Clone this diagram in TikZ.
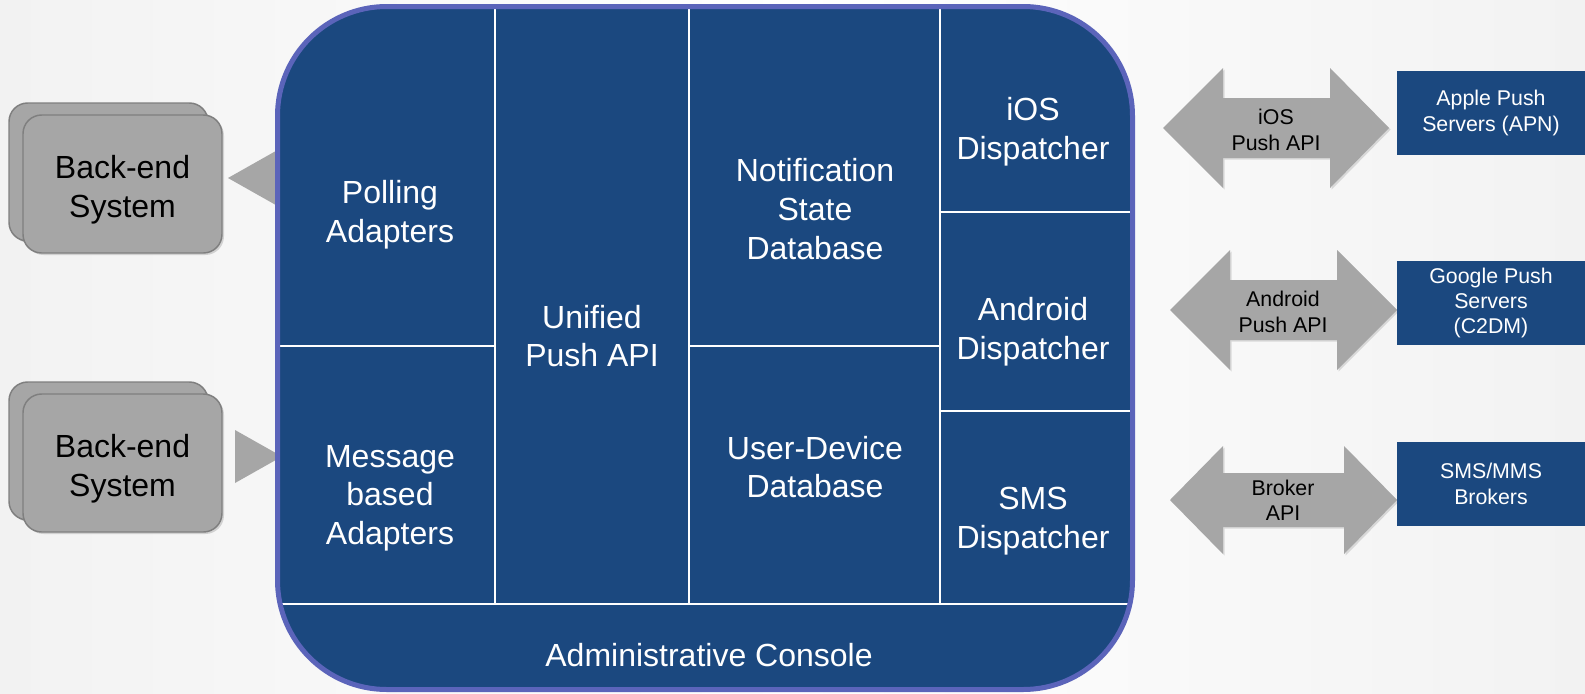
\documentclass[tikz,border=0pt]{standalone}
\usepackage{fontspec}
\setmainfont{Liberation Sans}
\usetikzlibrary{shadows}
\definecolor{boxblue}{HTML}{1B487F}
\definecolor{rimblue}{HTML}{5B64BA}
\definecolor{bgray}{HTML}{A6A6A6}
\definecolor{dgray}{HTML}{7F7F7F}
\definecolor{bgedge}{HTML}{F2F2F2}
\begin{document}
\begin{tikzpicture}[x=0.75pt,y=-0.75pt,
  backend/.style={draw=dgray, line width=1.1pt, fill=bgray, rounded corners=14pt,
    minimum width=149.25pt, minimum height=103.5pt, inner sep=0pt,
    drop shadow={opacity=0.3, shadow xshift=1.5pt, shadow yshift=-1.5pt}},
  betext/.style={font=\fontsize{24}{29}\selectfont, align=center},
  tri/.style={fill=bgray},
  dblarrow/.style={fill=bgray, drop shadow={opacity=0.25, shadow xshift=1.2pt, shadow yshift=-1.2pt}},
  maintext/.style={text=white, font=\fontsize{24}{29}\selectfont, align=center},
  smalltext/.style={font=\fontsize{16}{19}\selectfont, align=center},
  server/.style={fill=boxblue, text=white, font=\fontsize{16}{19}\selectfont, align=center,
    minimum width=141pt, minimum height=63pt, inner sep=0pt},
  divider/.style={draw=white, line width=1.6pt},
  rim/.style={draw=rimblue, line width=3.75pt, rounded corners=82pt}
]
\useasboundingbox (0,0) rectangle (1585,693);
\shade[left color=bgedge, right color=bgedge, middle color=white] (0,0) rectangle (1585,693);

% back-end systems
\node[backend] (be1b) at (108.5,172) {};
\node[backend] (be1) at (122.5,184) {};
\node[betext] (be1t) at (122.5,190) {Back-end\\System};
\node[backend] (be2b) at (108.5,451) {};
\node[backend] (be2) at (122.5,463) {};
\node[betext] (be2t) at (122.5,469) {Back-end\\System};

% triangles
\coordinate (t1tip) at (228,178);
\fill[tri] (t1tip) -- (290,143) -- (290,213) -- cycle;
\coordinate (t2tip) at (282,456.5);
\fill[tri] (235,430) -- (235,483) -- (t2tip) -- cycle;

% main box
\fill[boxblue, rounded corners=82pt] (277.5,6.5) rectangle (1132.5,689.5);
\begin{scope}
  \clip[rounded corners=82pt] (277.5,6.5) rectangle (1132.5,689.5);
  \draw[divider] (495,0) -- (495,604);
  \draw[divider] (689,0) -- (689,604);
  \draw[divider] (940,0) -- (940,604);
  \draw[divider] (270,604) -- (1140,604);
  \draw[divider] (270,346) -- (495,346);
  \draw[divider] (689,346) -- (940,346);
  \draw[divider] (940,212) -- (1140,212);
  \draw[divider] (940,411) -- (1140,411);
\end{scope}
\draw[rim] (277.5,6.5) rectangle (1132.5,689.5);

\node[maintext] (poll) at (390,215) {Polling\\Adapters};
\node[maintext] (msg) at (390,498) {Message\\based\\Adapters};
\node[maintext] (upa) at (592,336) {Unified\\Push API};
\node[maintext] (nsd) at (815,209) {Notification\\State\\Database};
\node[maintext] (udd) at (815,467) {User-Device\\Database};
\node[maintext] (ios) at (1033,132) {iOS\\Dispatcher};
\node[maintext] (andr) at (1033,332) {Android\\Dispatcher};
\node[maintext] (sms) at (1033,521) {SMS\\Dispatcher};
\node[maintext] (admin) at (709,655) {Administrative Console};

% double arrows
\fill[dblarrow] (1163,128) -- (1223,68) -- (1223,98) -- (1330,98) -- (1330,68) -- (1389,128)
  -- (1330,188) -- (1330,158) -- (1223,158) -- (1223,188) -- cycle;
\fill[dblarrow] (1170,310) -- (1230,250) -- (1230,280) -- (1337,280) -- (1337,250) -- (1397,310)
  -- (1337,370) -- (1337,340) -- (1230,340) -- (1230,370) -- cycle;
\fill[dblarrow] (1170,500) -- (1223,446) -- (1223,473) -- (1344,473) -- (1344,446) -- (1397,500)
  -- (1344,554) -- (1344,527) -- (1223,527) -- (1223,554) -- cycle;
\node[smalltext] (iosapi) at (1276,130) {iOS\\Push API};
\node[smalltext] (andapi) at (1283,312) {Android\\Push API};
\node[smalltext] (brkapi) at (1283,500) {Broker\\API};

% servers
\node[server] (apn) at (1491,113) {Apple Push\\Servers (APN)};
\node[server] (c2dm) at (1491,303) {Google Push\\Servers\\(C2DM)};
\node[server] (brk) at (1491,484) {SMS/MMS\\Brokers};
\end{tikzpicture}
\end{document}
